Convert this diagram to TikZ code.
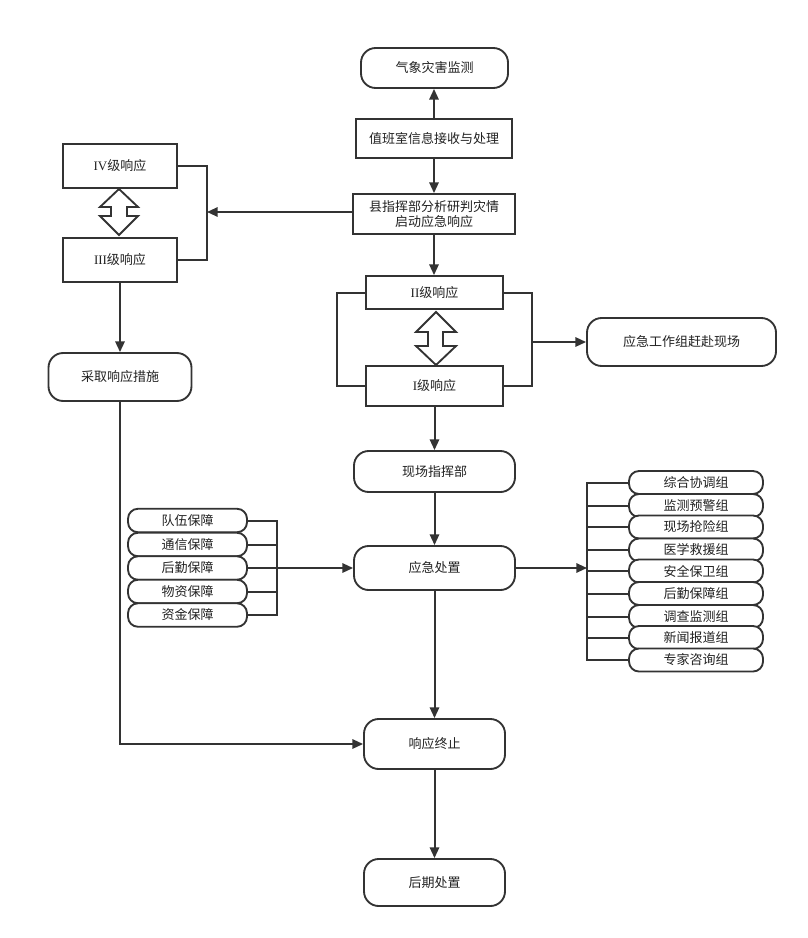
\documentclass[tikz,border=0pt]{standalone}
\usepackage{fontspec}
\setmainfont{Noto Sans CJK SC}
\newfontfamily\latserif{Liberation Serif}
\usetikzlibrary{arrows.meta}
\definecolor{ln}{HTML}{333333}
\definecolor{tx}{HTML}{222222}
\tikzset{
  base/.style={draw=ln, line width=1.4pt, fill=white, text=tx, inner sep=0pt, align=center, font=\fontsize{9.75pt}{12pt}\selectfont},
  rbox/.style={base, rounded corners=11pt},
  sbox/.style={base},
  gbox/.style={base, rounded corners=7.5pt},
  sz/.style 2 args={minimum width=#1*0.75pt, minimum height=#2*0.75pt},
  conn/.style={draw=ln, line width=1.5pt},
  arr/.style={conn, -{Triangle[length=8pt,width=7pt]}},
  dbl/.style={draw=ln, line width=1.4pt, fill=white, line join=miter},
}
\begin{document}
\begin{tikzpicture}[x=0.75pt,y=-0.75pt]
\useasboundingbox (0,0) rectangle (807,938);
% main column
\node[rbox, sz={147}{40}] (n1) at (434.5,68) {气象灾害监测};
\node[sbox, sz={156}{39}] (n2) at (434,138.5) {值班室信息接收与处理};
\node[sbox, sz={162}{40}] (n3) at (434,214) {县指挥部分析研判灾情\\[-1pt]启动应急响应};
\node[sbox, sz={114}{44}] (n4) at (120,166) {{\latserif IV}级响应};
\node[sbox, sz={114}{44}] (n5) at (120,260) {{\latserif III}级响应};
\node[rbox, sz={143}{48}] (n6) at (120,377) {采取响应措施};
\node[sbox, sz={137}{33}] (n7) at (434.5,292.5) {{\latserif II}级响应};
\node[sbox, sz={137}{40}] (n8) at (434.5,386) {{\latserif I}级响应};
\node[rbox, sz={189}{48}] (n9) at (681.5,342) {应急工作组赶赴现场};
\node[rbox, sz={161}{41}] (n10) at (434.5,471.5) {现场指挥部};
\node[rbox, sz={161}{44}] (n11) at (434.5,568) {应急处置};
\node[rbox, sz={141}{50}] (n12) at (434.5,744) {响应终止};
\node[rbox, sz={141}{47}] (n13) at (434.5,882.5) {后期处置};
% left support group
\foreach \i/\y/\t in {1/520.5/队伍保障,2/544.5/通信保障,3/568/后勤保障,4/591.5/物资保障,5/615/资金保障}
  \node[gbox, sz={119}{23.5}] (L\i) at (187.5,\y) {\t};
% right group list
\foreach \i/\y/\t in {1/482.5/综合协调组,2/505.5/监测预警组,3/527/现场抢险组,4/550/医学救援组,5/571/安全保卫组,6/593.5/后勤保障组,7/616.5/调查监测组,8/637.5/新闻报道组,9/660/专家咨询组}
  \node[gbox, sz={134}{23}] (R\i) at (696,\y) {\t};
% double arrows
\draw[dbl] (119,189) -- (138,207) -- (127,207) -- (127,216) -- (138,216) -- (119,235)
  -- (100,216) -- (111,216) -- (111,207) -- (100,207) -- cycle;
\draw[dbl] (436,312) -- (456,332) -- (443,332) -- (443,346) -- (456,346) -- (436,365)
  -- (416,346) -- (428,346) -- (428,332) -- (416,332) -- cycle;
% connectors main
\draw[arr] (n2.north) -- (n2.north |- n1.south);
\draw[arr] (n2.south) -- (n3.north);
\draw[arr] (n3.south) -- (n3.south |- n7.north);
\draw[arr] (n8.south) -- (n10.north);
\draw[arr] (n10.south) -- (n11.north);
\draw[arr] (n11.south) -- (n12.north);
\draw[arr] (n12.south) -- (n13.north);
% IV/III bracket
\coordinate (bl) at (207,212);
\draw[conn] (n4.east) -| (bl) |- (n5.east);
\draw[arr] (n3.west |- bl) -- (bl);
\draw[arr] (n5.south) -- (n6.north);
\draw[arr] (n6.south) |- (n12.west);
% II/I bracket
\coordinate (bL) at (337,342);
\coordinate (bR) at (532,342);
\draw[conn] (n7.west) -| (bL) |- (n8.west);
\draw[conn] (n7.east) -| (bR) |- (n8.east);
\draw[arr] (bR) -- (n9.west);
% left group bracket
\coordinate (lg) at (277,568);
\draw[conn] (L1.east) -| (lg) |- (L5.east);
\foreach \i in {2,4} \draw[conn] (L\i.east) -- (L\i.east -| lg);
\draw[arr] (L3.east) -- (n11.west);
% right group bracket
\coordinate (rg) at (587,568);
\draw[arr] (n11.east) -- (rg);
\draw[conn] (R1.west) -| (rg) |- (R9.west);
\foreach \i in {2,...,8} \draw[conn] (R\i.west) -- (R\i.west -| rg);
\end{tikzpicture}
\end{document}
